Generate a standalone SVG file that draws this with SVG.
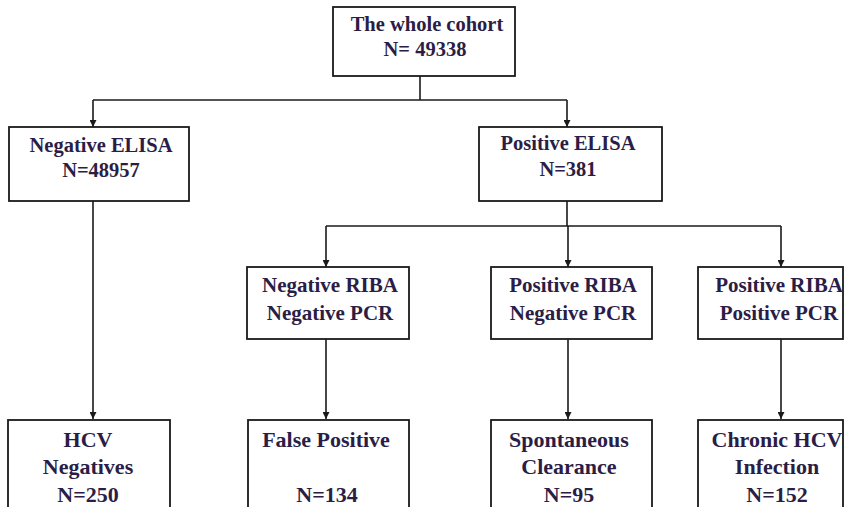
<svg xmlns="http://www.w3.org/2000/svg" width="848" height="507" viewBox="0 0 848 507">
<style>
.box{fill:#fff;stroke:#1a1a1a;stroke-width:1.8}
.t{font-family:'Liberation Serif','DejaVu Serif',serif;font-weight:bold;font-size:20.5px;fill:#2b1d45;text-anchor:middle}
.m{font-size:21px}
.b{font-size:22px}
.c{fill:none;stroke:#1a1a1a;stroke-width:1.6}
</style>
<defs>
<marker id="ah" viewBox="0 0 10 10" refX="10" refY="5" markerWidth="7" markerHeight="7" markerUnits="userSpaceOnUse" orient="auto">
<path d="M0,0 L10,5 L0,10 z" fill="#1a1a1a"/>
</marker>
</defs>
<rect width="848" height="507" fill="#fff"/>
<g id="connectors">
<path class="c" d="M420 76 V100"/>
<path class="c" d="M93 100 H567"/>
<path class="c" d="M93 100 V127" marker-end="url(#ah)"/>
<path class="c" d="M567 100 V127" marker-end="url(#ah)"/>
<path class="c" d="M567 201 V226"/>
<path class="c" d="M326 226 H781"/>
<path class="c" d="M326 226 V267" marker-end="url(#ah)"/>
<path class="c" d="M568 226 V267" marker-end="url(#ah)"/>
<path class="c" d="M781 226 V267" marker-end="url(#ah)"/>
<path class="c" d="M93 201 V419" marker-end="url(#ah)"/>
<path class="c" d="M326 339 V419" marker-end="url(#ah)"/>
<path class="c" d="M568 339 V419" marker-end="url(#ah)"/>
<path class="c" d="M781 339 V419" marker-end="url(#ah)"/>
</g>
<g id="cohort">
<rect class="box" x="333" y="7" width="182" height="69"/>
<text class="t" x="427" y="31">The whole cohort</text>
<text class="t" x="425" y="56">N= 49338</text>
</g>
<g id="neg-elisa">
<rect class="box" x="9" y="127" width="180" height="74"/>
<text class="t" x="101" y="152">Negative ELISA</text>
<text class="t" x="101" y="177">N=48957</text>
</g>
<g id="pos-elisa">
<rect class="box" x="479" y="127" width="183" height="74"/>
<text class="t" x="568" y="150">Positive ELISA</text>
<text class="t" x="568" y="176">N=381</text>
</g>
<g id="neg-riba-neg-pcr">
<rect class="box" x="247" y="267" width="162" height="72"/>
<text class="t m" x="330" y="292">Negative RIBA</text>
<text class="t m" x="330" y="320">Negative PCR</text>
</g>
<g id="pos-riba-neg-pcr">
<rect class="box" x="491" y="267" width="161" height="72"/>
<text class="t m" x="573" y="292">Positive RIBA</text>
<text class="t m" x="573" y="320">Negative PCR</text>
</g>
<g id="pos-riba-pos-pcr">
<rect class="box" x="698" y="267" width="145" height="72"/>
<text class="t m" x="779" y="292">Positive RIBA</text>
<text class="t m" x="779" y="320">Positive PCR</text>
</g>
<g id="hcv-neg">
<rect class="box" x="8" y="420" width="162" height="100"/>
<text class="t b" x="88" y="447">HCV</text>
<text class="t b" x="88" y="474">Negatives</text>
<text class="t b" x="88" y="502">N=250</text>
</g>
<g id="false-pos">
<rect class="box" x="248" y="420" width="161" height="100"/>
<text class="t b" x="326" y="447">False Positive</text>
<text class="t b" x="327" y="502">N=134</text>
</g>
<g id="spont">
<rect class="box" x="491" y="420" width="161" height="100"/>
<text class="t b" x="569" y="447">Spontaneous</text>
<text class="t b" x="569" y="474">Clearance</text>
<text class="t b" x="569" y="502">N=95</text>
</g>
<g id="chronic">
<rect class="box" x="698" y="420" width="145" height="100"/>
<text class="t b" x="777" y="447">Chronic HCV</text>
<text class="t b" x="777" y="474">Infection</text>
<text class="t b" x="777" y="502">N=152</text>
</g>
</svg>
